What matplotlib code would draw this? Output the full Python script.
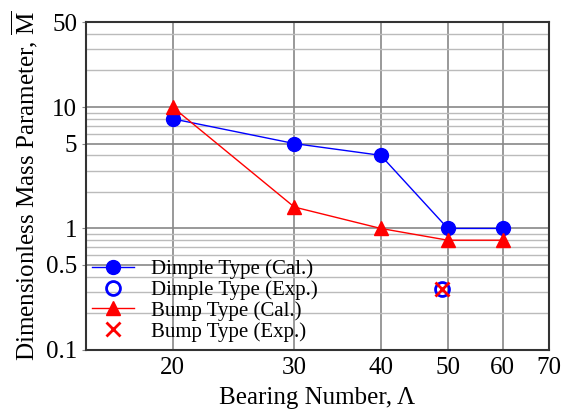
import numpy as np
import matplotlib
matplotlib.use("Agg")
import matplotlib.pyplot as plt
from matplotlib.ticker import FixedLocator, NullFormatter

plt.rcParams['font.family'] = ['Liberation Serif', 'DejaVu Serif']
plt.rcParams['mathtext.fontset'] = 'custom'
plt.rcParams['mathtext.rm'] = 'Liberation Serif'
plt.rcParams['mathtext.it'] = 'Liberation Serif'

# bearing number and mass parameter
bearing = [20, 30, 40, 50, 60]
dimple_cal = [8, 5, 4, 1, 1]
bump_cal = [10, 1.5, 1, 0.8, 0.8]
exp_x = [49]
dimple_exp = [0.32]
bump_exp = [0.32]

xticks = [20, 30, 40, 50, 60, 70]
yticks = [0.1, 0.5, 1, 5, 10, 50]
yminor = [0.2, 0.3, 0.4, 0.6, 0.7, 0.8, 0.9, 2, 3, 4, 6, 7, 8, 9, 20, 30, 40]

fig = plt.figure(figsize=(5.7, 4.18), dpi=100)
ax = fig.add_axes([0.151, 0.163, 0.812, 0.784])

ax.set_xscale('log')
ax.set_yscale('log')
ax.set_xlim(15, 70)
ax.set_ylim(0.1, 50)

ax.xaxis.set_major_locator(FixedLocator(xticks))
ax.xaxis.set_minor_locator(FixedLocator([]))
ax.set_xticklabels([str(t) for t in xticks])
ax.yaxis.set_major_locator(FixedLocator(yticks))
ax.yaxis.set_minor_locator(FixedLocator(yminor))
ax.yaxis.set_minor_formatter(NullFormatter())
ax.set_yticklabels(['0.1', '0.5', '1', '5', '10', '50'])

ax.grid(True, which='major', color='#888888', lw=1.2)
ax.grid(True, which='minor', axis='y', color='#bbbbbb', lw=1.0)
ax.set_axisbelow(True)

ax.plot(bearing, dimple_cal, color='blue', lw=1, marker='o', ms=10,
        label='Dimple Type (Cal.)')
ax.plot(exp_x, dimple_exp, ls='none', marker='o', ms=10, mfc='none',
        mec='blue', mew=2, label='Dimple Type (Exp.)')
ax.plot(bearing, bump_cal, color='red', lw=1, marker='^', ms=10,
        label='Bump Type (Cal.)')
ax.plot(exp_x, bump_exp, ls='none', marker='x', ms=10, mec='red', mew=2,
        label='Bump Type (Exp.)')

for s in ax.spines.values():
    s.set_color('#333333')
    s.set_linewidth(1.5)

ax.tick_params(axis='both', which='major', labelsize=18, length=3, color='#888888')
ax.tick_params(axis='x', which='major', pad=5, length=0)
ax.tick_params(axis='y', which='minor', length=0)

ax.set_xlabel('Bearing Number, \u039b', fontsize=18, labelpad=6)
ax.set_ylabel(r'Dimensionless Mass Parameter, $\overline{\mathrm{M}}$', fontsize=18,
              labelpad=4)

ax.legend(loc='lower left', bbox_to_anchor=(-0.005, 0.0), frameon=False,
          fontsize=15, handlelength=2.0, handletextpad=0.85, labelspacing=0.05,
          borderaxespad=0.0)

fig.savefig('out.png', dpi=100)
